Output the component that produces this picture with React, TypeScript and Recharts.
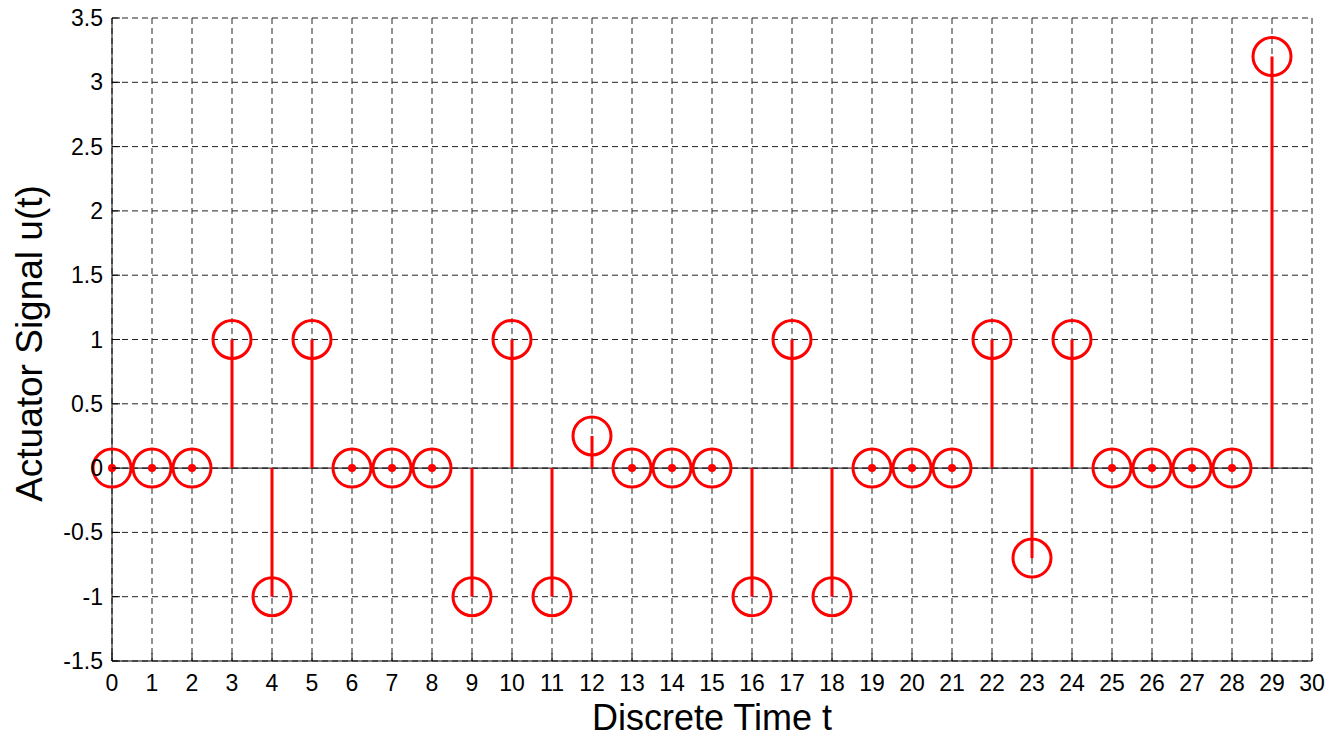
import { ComposedChart, Scatter, ErrorBar, XAxis, YAxis, CartesianGrid, ReferenceLine, Label } from "recharts"

// discrete time steps and actuator signal
const timeSteps = [0, 1, 2, 3, 4, 5, 6, 7, 8, 9, 10, 11, 12, 13, 14, 15, 16, 17, 18, 19, 20, 21, 22, 23, 24, 25, 26, 27, 28, 29]
const signal = [0, 0, 0, 1, -1, 1, 0, 0, 0, -1, 1, -1, 0.25, 0, 0, 0, -1, 1, -1, 0, 0, 0, 1, -0.7, 1, 0, 0, 0, 0, 3.2]

const xTicks = [0, 1, 2, 3, 4, 5, 6, 7, 8, 9, 10, 11, 12, 13, 14, 15, 16, 17, 18, 19, 20, 21, 22, 23, 24, 25, 26, 27, 28, 29, 30]
const yTicks = [-1.5, -1, -0.5, 0, 0.5, 1, 1.5, 2, 2.5, 3, 3.5]

const RED = "#ff0000"
const FONT = "Liberation Sans, Arial, sans-serif"
const TICK_LEN = 8

// stem from 0 to the value, as an asymmetric error bar
const chartData = timeSteps.map((t, i) => ({
  t,
  u: signal[i],
  stem: [Math.max(signal[i], 0), Math.max(-signal[i], 0)],
}))

const BottomTick = ({ x, y, payload }: any) => (
  <g>
    <line x1={x} x2={x} y1={y} y2={y - TICK_LEN} stroke="#000" />
    <text x={x} y={y + 30} textAnchor="middle" fontSize={23} fontFamily={FONT} fill="#000">
      {payload.value}
    </text>
  </g>
)

const TopTick = ({ x, y }: any) => <line x1={x} x2={x} y1={y} y2={y + TICK_LEN} stroke="#000" />

const LeftTick = ({ x, y, payload }: any) => (
  <g>
    <line x1={x} x2={x + TICK_LEN} y1={y} y2={y} stroke="#000" />
    <text x={x - 9} y={y + 8} textAnchor="end" fontSize={23} fontFamily={FONT} fill="#000">
      {payload.value}
    </text>
  </g>
)

const RightTick = ({ x, y }: any) => <line x1={x} x2={x - TICK_LEN} y1={y} y2={y} stroke="#000" />

const StemHead = ({ cx, cy, payload }: any) => (
  <g>
    <circle cx={cx} cy={cy} r={19} fill="none" stroke={RED} strokeWidth={3} />
    {payload.u === 0 && <circle cx={cx} cy={cy} r={4} fill={RED} />}
  </g>
)

export default function App() {
  return (
    <div style={{ marginTop: -6 }}>
      <ComposedChart width={1327} height={736} data={chartData} margin={{ top: 16, right: 23, left: 0, bottom: 0 }}>
        <CartesianGrid stroke="#222" strokeDasharray="6 4" horizontalValues={yTicks} verticalValues={xTicks} />
        <XAxis
          dataKey="t"
          type="number"
          domain={[0, 30]}
          ticks={xTicks}
          interval={0}
          height={77}
          tickSize={0}
          tickMargin={0}
          tickLine={false}
          tick={<BottomTick />}
          stroke="#000"
        >
          <Label
            content={({ viewBox }: any) => (
              <text
                x={viewBox.x + viewBox.width / 2}
                y={viewBox.y + 69}
                textAnchor="middle"
                fontSize={36}
                fontFamily={FONT}
                fill="#000"
              >
                Discrete Time t
              </text>
            )}
          />
        </XAxis>
        <XAxis
          xAxisId="top"
          orientation="top"
          dataKey="t"
          type="number"
          domain={[0, 30]}
          ticks={xTicks}
          interval={0}
          height={0}
          tickSize={0}
          tickMargin={0}
          tickLine={false}
          tick={<TopTick />}
          stroke="#000"
        />
        <YAxis
          type="number"
          domain={[-1.5, 3.5]}
          ticks={yTicks}
          interval={0}
          width={104}
          tickSize={0}
          tickMargin={0}
          tickLine={false}
          tick={<LeftTick />}
          stroke="#000"
        >
          <Label
            content={({ viewBox }: any) => {
              const cx = 34
              const cy = viewBox.y + viewBox.height / 2 + 4
              return (
                <text
                  x={cx}
                  y={cy}
                  transform={`rotate(-90 ${cx} ${cy})`}
                  textAnchor="middle"
                  fontSize={37}
                  fontFamily={FONT}
                  fill="#000"
                >
                  Actuator Signal u(t)
                </text>
              )
            }}
          />
        </YAxis>
        <YAxis
          yAxisId="right"
          orientation="right"
          type="number"
          domain={[-1.5, 3.5]}
          ticks={yTicks}
          interval={0}
          width={0}
          tickSize={0}
          tickMargin={0}
          tickLine={false}
          tick={<RightTick />}
          stroke="#000"
        />
        <ReferenceLine y={0} stroke="#000" strokeWidth={1} />
        <Scatter dataKey="u" fill={RED} shape={<StemHead />} isAnimationActive={false}>
          <ErrorBar dataKey="stem" direction="y" width={0} stroke={RED} strokeWidth={3} isAnimationActive={false} />
        </Scatter>
      </ComposedChart>
    </div>
  )
}
